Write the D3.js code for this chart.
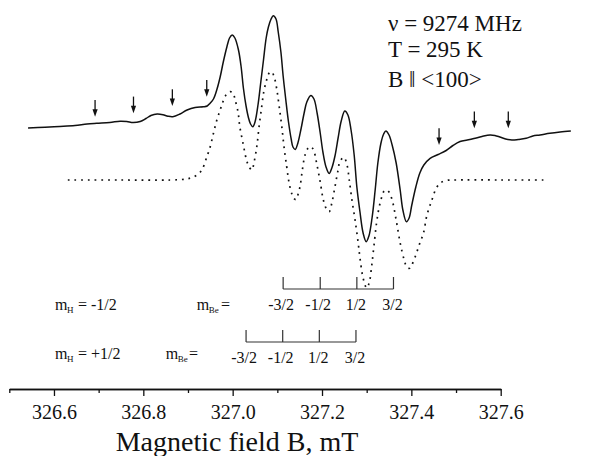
<!DOCTYPE html>
<html>
<head>
<meta charset="utf-8">
<script src="https://d3js.org/d3.v7.min.js"></script>
<style>
  body { margin: 0; background: #fff; }
  text { font-family: "Liberation Serif", "Times New Roman", serif; fill: #111; }
</style>
</head>
<body>
<div id="my_dataviz"></div>
<script>
// measured spectrum, field in mT, intensity in arbitrary units
var solidB = [326.542, 326.580, 326.613, 326.647, 326.674, 326.696, 326.725, 326.748, 326.763, 326.777,
  326.793, 326.806, 326.817, 326.831, 326.844, 326.855, 326.866, 326.882, 326.898, 326.916,
  326.934, 326.943, 326.949, 326.957, 326.965, 326.972, 326.979, 326.987, 326.993, 326.999,
  327.005, 327.013, 327.019, 327.024, 327.030, 327.035, 327.040, 327.045, 327.050, 327.057,
  327.063, 327.069, 327.075, 327.080, 327.086, 327.091, 327.097, 327.102, 327.108, 327.113,
  327.119, 327.125, 327.131, 327.135, 327.140, 327.146, 327.153, 327.160, 327.166, 327.175,
  327.182, 327.189, 327.196, 327.202, 327.209, 327.216, 327.222, 327.229, 327.236, 327.243,
  327.251, 327.258, 327.265, 327.272, 327.278, 327.285, 327.292, 327.299, 327.305, 327.312,
  327.319, 327.325, 327.332, 327.338, 327.343, 327.350, 327.357, 327.366, 327.375, 327.381,
  327.389, 327.395, 327.401, 327.410, 327.419, 327.428, 327.442, 327.460, 327.478, 327.493,
  327.509, 327.525, 327.540, 327.558, 327.576, 327.587, 327.598, 327.611, 327.625, 327.639,
  327.657, 327.672, 327.688, 327.710, 327.733, 327.757];
var solidI = [0.52, 0.527, 0.535, 0.545, 0.56, 0.567, 0.575, 0.588, 0.585, 0.575,
  0.585, 0.615, 0.645, 0.66, 0.653, 0.638, 0.633, 0.66, 0.70, 0.725,
  0.732, 0.74, 0.765, 0.81, 0.91, 1.03, 1.18, 1.33, 1.42, 1.45,
  1.42, 1.30, 1.13, 0.92, 0.74, 0.63, 0.56, 0.533, 0.58, 0.76,
  0.98, 1.20, 1.42, 1.53, 1.61, 1.643, 1.61, 1.48, 1.28, 1.04,
  0.80, 0.58, 0.41, 0.33, 0.305, 0.37, 0.51, 0.67, 0.78, 0.845,
  0.81, 0.67, 0.47, 0.28, 0.13, 0.065, 0.12, 0.24, 0.42, 0.59,
  0.69, 0.65, 0.50, 0.25, -0.07, -0.32, -0.53, -0.617, -0.56, -0.38,
  -0.10, 0.17, 0.37, 0.46, 0.49, 0.45, 0.35, 0.17, -0.10, -0.30,
  -0.417, -0.38, -0.25, -0.07, 0.07, 0.15, 0.217, 0.255, 0.295, 0.345,
  0.385, 0.40, 0.415, 0.435, 0.45, 0.445, 0.43, 0.41, 0.40, 0.405,
  0.417, 0.44, 0.45, 0.467, 0.48, 0.49];

// simulated spectrum
var simB = [326.631, 326.748, 326.860, 326.896, 326.909, 326.920, 326.931, 326.942, 326.949, 326.957,
  326.964, 326.972, 326.978, 326.985, 326.994, 327.001, 327.005, 327.012, 327.016, 327.024,
  327.031, 327.037, 327.043, 327.048, 327.054, 327.059, 327.065, 327.070, 327.076, 327.081,
  327.087, 327.093, 327.099, 327.104, 327.110, 327.115, 327.121, 327.126, 327.132, 327.137,
  327.142, 327.146, 327.151, 327.156, 327.162, 327.169, 327.175, 327.181, 327.188, 327.196,
  327.203, 327.210, 327.216, 327.222, 327.229, 327.236, 327.240, 327.249, 327.256, 327.261,
  327.267, 327.274, 327.281, 327.285, 327.292, 327.300, 327.306, 327.311, 327.316, 327.322,
  327.328, 327.334, 327.339, 327.345, 327.350, 327.357, 327.366, 327.375, 327.384, 327.390,
  327.396, 327.401, 327.410, 327.419, 327.427, 327.435, 327.446, 327.455, 327.464, 327.478,
  327.498, 327.598, 327.699];
var simI = [0, 0, 0, 0.01, 0.025, 0.05, 0.10, 0.23, 0.32, 0.467,
  0.59, 0.70, 0.78, 0.85, 0.883, 0.87, 0.81, 0.68, 0.533, 0.35,
  0.20, 0.13, 0.10, 0.18, 0.333, 0.53, 0.733, 0.89, 1.00, 1.065,
  1.083, 1.03, 0.90, 0.74, 0.533, 0.33, 0.133, -0.02, -0.133, -0.185,
  -0.195, -0.15, -0.06, 0.10, 0.25, 0.32, 0.333, 0.30, 0.167, -0.02,
  -0.20, -0.29, -0.317, -0.23, -0.067, 0.10, 0.183, 0.227, 0.15, 0.0,
  -0.20, -0.40, -0.63, -0.78, -0.98, -1.08, -1.02, -0.867, -0.67, -0.433,
  -0.27, -0.167, -0.11, -0.10, -0.12, -0.20, -0.40, -0.63, -0.80, -0.87,
  -0.883, -0.85, -0.75, -0.63, -0.533, -0.35, -0.20, -0.09, -0.033, -0.005,
  0, 0, 0];

// arrows (weak lines)
var arrowB = [326.692, 326.778, 326.865, 326.942, 327.462, 327.541, 327.617];
var arrowTip = [0.633, 0.667, 0.74, 0.833, 0.35, 0.517, 0.517];

// stick diagrams
var sticksMinus = [327.113, 327.196, 327.278, 327.360];
var sticksPlus = [327.030, 327.112, 327.194, 327.276];
var mBeLabels = ["-3/2", "-1/2", "1/2", "3/2"];

var majorTicks = [326.6, 326.8, 327.0, 327.2, 327.4, 327.6];
var minorTicks = [326.5, 326.7, 326.9, 327.1, 327.3, 327.5];
var infoLines = ["\u03bd = 9274 MHz", "T = 295 K", "B \u2016 <100>"];

var width = 604, height = 456;

var svg = d3.select("#my_dataviz")
  .append("svg")
    .attr("width", width)
    .attr("height", height);

// scales
var x = d3.scaleLinear().domain([326.5, 327.6]).range([9.3, 500.7]);
var y = d3.scaleLinear().domain([-1.2, 1.8]).range([300, 0]);

var line = function(bs, is) {
  return d3.line()
    .x(function(d) { return x(d[0]); })
    .y(function(d) { return y(d[1]); })
    .curve(d3.curveCatmullRom.alpha(0.5))(bs.map(function(b, i) { return [b, is[i]]; }));
};

// experimental
svg.append("path")
  .attr("d", line(solidB, solidI))
  .attr("fill", "none")
  .attr("stroke", "#111")
  .attr("stroke-width", 1.5);

// simulation
svg.append("path")
  .attr("d", line(simB, simI))
  .attr("fill", "none")
  .attr("stroke", "#111")
  .attr("stroke-width", 1.7)
  .attr("stroke-dasharray", "1.8,4.9");

// arrows
var arr = svg.selectAll("g.arrow")
  .data(arrowB.map(function(b, i) { return {b: b, tip: arrowTip[i]}; }))
  .enter().append("g").attr("class", "arrow");
arr.append("line")
  .attr("x1", function(d) { return x(d.b); })
  .attr("x2", function(d) { return x(d.b); })
  .attr("y1", function(d) { return y(d.tip) - 16.7; })
  .attr("y2", function(d) { return y(d.tip) - 5; })
  .attr("stroke", "#111")
  .attr("stroke-width", 1.3);
arr.append("path")
  .attr("d", function(d) {
    var px = x(d.b), py = y(d.tip);
    return "M" + (px - 2.6) + "," + (py - 7.5) + "L" + (px + 2.6) + "," + (py - 7.5) + "L" + px + "," + py + "Z";
  })
  .attr("fill", "#111");

// stick diagrams
var drawSticks = function(vals, base) {
  svg.append("line")
    .attr("x1", x(vals[0])).attr("x2", x(vals[vals.length - 1]))
    .attr("y1", base).attr("y2", base)
    .attr("stroke", "#333").attr("stroke-width", 1.2);
  svg.selectAll(null).data(vals).enter().append("line")
    .attr("x1", function(d) { return x(d); })
    .attr("x2", function(d) { return x(d); })
    .attr("y1", base - 12).attr("y2", base)
    .attr("stroke", "#333").attr("stroke-width", 1.2);
  svg.selectAll(null).data(vals).enter().append("text")
    .attr("x", function(d, i) { return x(d) + (mBeLabels[i][0] == "-" ? -2 : -1); })
    .attr("y", base + 21)
    .attr("text-anchor", "middle")
    .style("font-size", "16px")
    .text(function(d, i) { return mBeLabels[i]; });
};
drawSticks(sticksMinus, 289);
drawSticks(sticksPlus, 342);

// m labels
var mLabel = function(xm, yb, sub, rest, xr) {
  svg.append("text").attr("x", xm).attr("y", yb).style("font-size", "16px").text("m");
  svg.append("text").attr("x", xm + 12).attr("y", yb + 3).style("font-size", "9px").text(sub);
  svg.append("text").attr("x", xr).attr("y", yb).style("font-size", "16px").text(rest);
};
mLabel(55, 310, "H", "= -1/2", 78);
mLabel(196.7, 310, "Be", "=", 221);
mLabel(55, 359, "H", "= +1/2", 78);
mLabel(165.7, 359, "Be", "=", 189);

// X axis
var ax = svg.append("g")
  .attr("transform", "translate(0,389)")
  .call(d3.axisBottom(x).tickValues(majorTicks).tickSize(7).tickSizeOuter(0).tickPadding(9).tickFormat(d3.format(".1f")));
ax.selectAll("text").style("font-size", "20px").attr("fill", "#111")
  .style("font-family", "'Liberation Serif', serif");
svg.append("g")
  .attr("transform", "translate(0,389)")
  .call(d3.axisBottom(x).tickValues(minorTicks).tickSize(4).tickSizeOuter(0).tickFormat(""));
svg.selectAll(".domain, .tick line").attr("stroke", "#111").attr("stroke-width", 1.3);

svg.append("text")
  .attr("x", 237)
  .attr("y", 451)
  .attr("text-anchor", "middle")
  .style("font-size", "28px")
  .text("Magnetic field B, mT");

// conditions
svg.selectAll(null).data(infoLines).enter().append("text")
  .attr("x", 388)
  .attr("y", function(d, i) { return [31, 57, 87][i]; })
  .style("font-size", "23px")
  .text(function(d) { return d; });
</script>
</body>
</html>
